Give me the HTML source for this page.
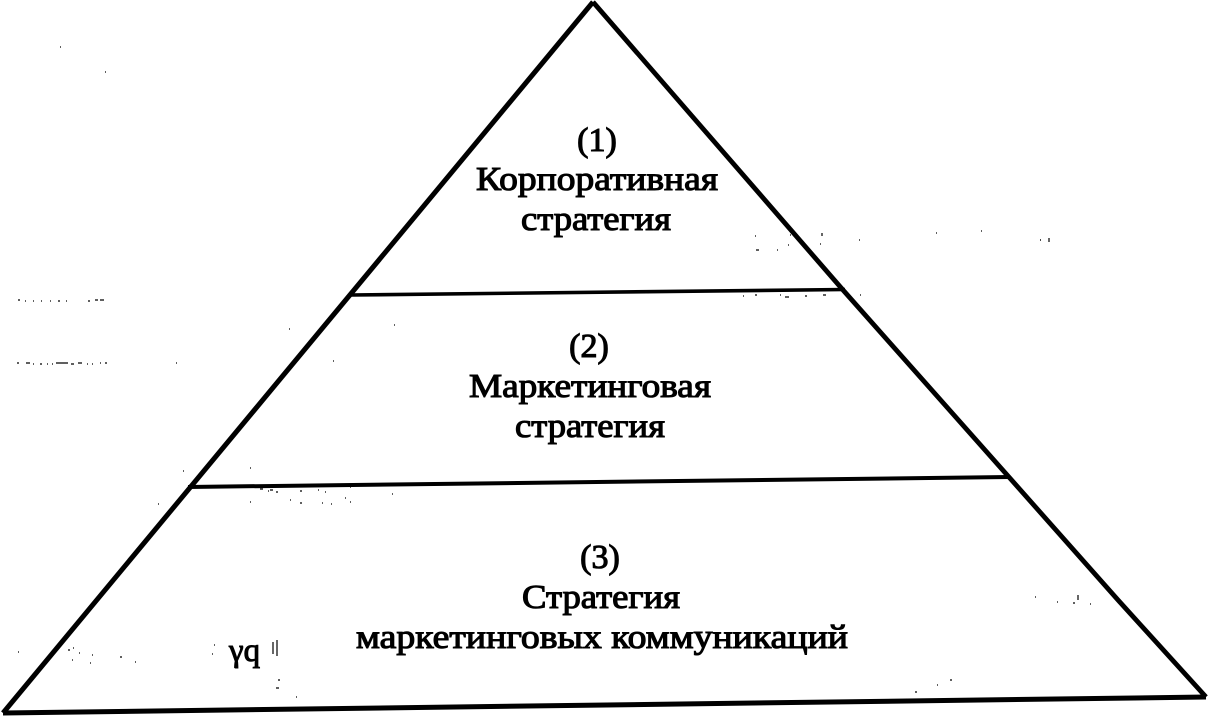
<!DOCTYPE html>
<html lang="ru">
<head>
<meta charset="utf-8">
<style>
html,body{margin:0;padding:0;background:#fff;}
svg{display:block;}
text{font-family:"Liberation Serif",serif;fill:#000;text-anchor:middle;font-size:34px;stroke:#000;stroke-width:1.1px;}
</style>
</head>
<body>
<svg width="1210" height="718" viewBox="0 0 1210 718" xmlns="http://www.w3.org/2000/svg">
<rect width="1210" height="718" fill="#fff"/>
<g stroke="#000" fill="none" stroke-linejoin="miter">
<path stroke-width="5" d="M593 2 L3 713"/>
<path stroke-width="4.8" d="M593 2 L843 290 L1118 600 L1206 697"/>
<path stroke-width="5" d="M3 713 L1206 697"/>
<path stroke-width="3.6" d="M351 295 L845 289.5"/>
<path stroke-width="4" d="M188 487 L1009 477"/>
</g>
<text x="597" y="151">(1)</text>
<text x="597" y="190" textLength="242" lengthAdjust="spacingAndGlyphs">Корпоративная</text>
<text x="596" y="230" textLength="150" lengthAdjust="spacingAndGlyphs">стратегия</text>
<text x="589" y="357">(2)</text>
<text x="590" y="397" textLength="242" lengthAdjust="spacingAndGlyphs">Маркетинговая</text>
<text x="590" y="437" textLength="150" lengthAdjust="spacingAndGlyphs">стратегия</text>
<text x="600" y="568">(3)</text>
<text x="601" y="608" textLength="158" lengthAdjust="spacingAndGlyphs">Стратегия</text>
<text x="602" y="648" textLength="492" lengthAdjust="spacingAndGlyphs">маркетинговых коммуникаций</text>
<text x="229" y="661" style="text-anchor:start;font-size:33px;stroke-width:1px">γq</text>
<g stroke="#000" stroke-width="1.2" fill="none">
<path d="M18 300h2M25 301h1M33 301h1M41 301h1M50 301h1M58 301h2M66 301h1M88 301h2M95 300h3M100 300h4"/>
<path d="M17 363h2M26 363h4M33 364h1M40 364h2M47 364h1M52 364h1M56 363h12M71 364h3M78 363h4M87 364h1M92 364h1M100 363h1M105 363h2M176 363h1"/>
<path d="M18 652h1M68 650h2M73 648h1M79 653h1M72 660h1M90 663h1M92 655h1M120 657h2M135 662h1M214 645h1M212 654h1M277 640v16M273 642v12M278 680h2M276 688h3M296 697h1"/>
<path d="M289 329h1M394 325h1M333 361h1"/>
<path d="M755 236h1M790 235h1M822 233v3M859 240h1M936 233h1M981 231h1M1040 240h1M1049 238v4M756 250h3M777 250h1M788 245h1M820 244h1M743 296h1M755 295h2M780 295h1M785 297h4M805 296h2M823 295h3M848 296h1M860 295h1"/>
<path d="M250 468h1M183 471h1M158 504h1M250 487h4M260 489h3M268 491h1M270 490h3M276 492h2M300 491h2M318 490h1M325 492h1M350 487h1M392 494h1M250 502h1M290 500h1M300 503h2M322 503h1M331 504h1M345 498h1M350 502h1"/>
<path d="M1057 602h1M1073 603h2M1090 604h1M950 680h2M937 685h1M915 692h2M1035 597h1M1078 595v5M60 47h1M105 72h1M1040 240h1"/>
</g>
</svg>
</body>
</html>
